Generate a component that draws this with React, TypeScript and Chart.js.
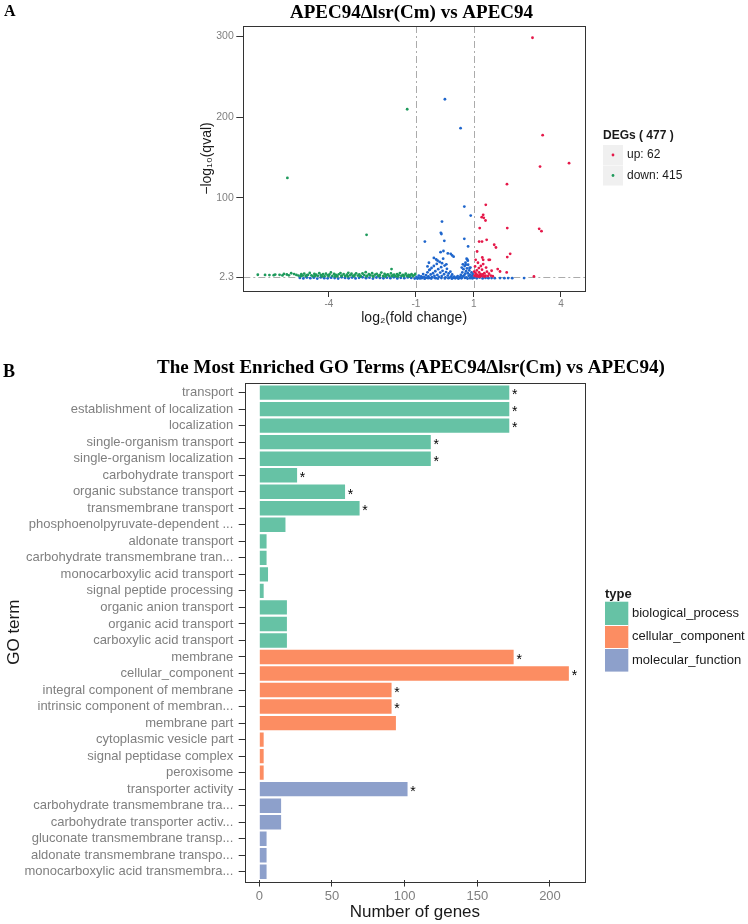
import React, { useEffect, useRef } from "react";
import { Chart, registerables } from "chart.js";

Chart.register(...registerables);

const SANS = '"Liberation Sans", Arial, Helvetica, sans-serif';
const SERIF = '"Liberation Serif", "Times New Roman", serif';

// ---------------- Panel A data (volcano plot) ----------------
const PANEL_A_LABEL = "A";
const VOLCANO_TITLE = "APEC94\u0394lsr(Cm) vs APEC94";
const FC_AXIS_TITLE = "log\u2082(fold change)";
const Q_AXIS_TITLE = "\u2212log\u2081\u2080(qval)";
const FC_TICKS = [-4, -1, 1, 4];
const Q_TICKS = [2.3, 100, 200, 300];
const FC_CUTOFFS = [-1, 1];
const Q_CUTOFF = 2.3;
const DEG_TITLE = "DEGs ( 477 )";
const UP_LABEL = "up: 62";
const DOWN_LABEL = "down: 415";

const UP_POINTS: [number, number][] = [
  [3.02, 297.9], [3.37, 177.5], [3.28, 138.8], [4.28, 143.0], [2.14, 117.0], [1.41, 91.5],
  [1.32, 79.2], [1.27, 76.3], [1.34, 75.5], [1.40, 72.2], [1.20, 62.8], [2.15, 62.8],
  [3.25, 61.9], [3.33, 59.0], [1.18, 46.2], [1.28, 46.2], [1.44, 48.3], [1.70, 42.2],
  [1.76, 38.8], [1.11, 33.9], [2.25, 31.0], [2.15, 27.0], [1.29, 26.5], [1.32, 23.6],
  [1.51, 23.6], [1.55, 23.6], [1.06, 23.6], [1.32, 18.3], [1.17, 13.4], [1.82, 12.2],
  [1.61, 10.1], [1.90, 9.2], [2.13, 8.0], [3.07, 3.0], [1.02, 4.0], [1.05, 7.5],
  [1.08, 3.2], [1.10, 10.5], [1.12, 5.0], [1.15, 3.0], [1.18, 8.0], [1.20, 4.5],
  [1.23, 6.0], [1.25, 3.5], [1.28, 11.5], [1.30, 5.5], [1.33, 3.2], [1.36, 7.0],
  [1.40, 4.0], [1.45, 9.0], [1.48, 3.5], [1.52, 6.5], [1.58, 4.2], [1.65, 3.3],
  [1.04, 15.5], [1.14, 20.0], [1.24, 16.0], [1.42, 14.0], [1.01, 9.0], [1.07, 5.8],
  [1.21, 2.8], [1.38, 2.9],
];

const DOWN_POINTS: [number, number][] = [
  [-5.43, 124.8], [-2.70, 54.5], [-1.30, 209.6], [-1.84, 12.2],
  [-6.45, 5.2], [-6.20, 5.0], [-6.05, 4.8], [-5.90, 4.6], [-5.85, 5.4], [-5.70, 5.1],
  [-5.60, 4.3], [-5.55, 6.2], [-5.45, 5.5], [-5.38, 4.5], [-5.30, 7.0], [-5.20, 6.0],
  [-5.12, 5.0], [-5.05, 4.2], [-4.95, 5.8], [-4.90, 4.1], [-4.85, 6.6], [-4.80, 3.6],
  [-4.72, 5.0], [-4.66, 7.4], [-4.60, 4.4], [-4.55, 3.2], [-4.50, 6.1], [-4.44, 5.2],
  [-4.38, 3.9], [-4.33, 7.0], [-4.27, 4.7], [-4.20, 5.9], [-4.15, 3.4], [-4.10, 6.5],
  [-4.04, 4.3], [-3.98, 5.5], [-3.93, 8.0], [-3.88, 3.7], [-3.82, 6.2], [-3.76, 4.9],
  [-3.71, 3.3], [-3.66, 5.7], [-3.60, 7.2], [-3.55, 4.1], [-3.49, 6.0], [-3.44, 3.5],
  [-3.38, 5.3], [-3.33, 7.6], [-3.27, 4.5], [-3.22, 6.4], [-3.17, 3.8], [-3.11, 5.1],
  [-3.06, 6.9], [-3.00, 4.2], [-2.95, 5.6], [-2.90, 3.4], [-2.84, 6.7], [-2.78, 4.8],
  [-2.73, 8.3], [-2.68, 3.9], [-2.62, 5.9], [-2.57, 4.4], [-2.51, 7.0], [-2.46, 3.6],
  [-2.40, 5.4], [-2.35, 6.3], [-2.30, 4.0], [-2.24, 5.0], [-2.19, 7.8], [-2.13, 3.5],
  [-2.08, 6.1], [-2.03, 4.6], [-1.97, 5.5], [-1.92, 3.8], [-1.86, 6.8], [-1.80, 4.4],
  [-1.75, 5.2], [-1.70, 3.4], [-1.65, 6.0], [-1.60, 4.7], [-1.55, 7.3], [-1.50, 3.9],
  [-1.45, 5.1], [-1.40, 4.2], [-1.35, 6.4], [-1.30, 3.6], [-1.25, 5.0], [-1.20, 4.3],
  [-1.15, 5.8], [-1.10, 3.5], [-1.05, 4.8], [-1.02, 6.2], [-4.97, 3.3], [-4.76, 4.6],
  [-4.47, 3.5], [-4.24, 3.1], [-4.01, 3.6], [-3.79, 3.1], [-3.57, 3.5], [-3.35, 3.0],
  [-3.13, 3.4], [-2.92, 2.9], [-2.70, 3.3], [-2.48, 3.0], [-2.27, 3.4], [-2.05, 2.9],
  [-1.83, 3.2], [-1.62, 2.9], [-1.42, 3.3], [-1.22, 3.0],
];

const NS_POINTS: [number, number][] = [
  [-5.00, 1.2], [-4.88, 0.6], [-4.76, 1.8], [-4.64, 0.9], [-4.52, 1.5], [-4.40, 0.4],
  [-4.28, 1.9], [-4.16, 1.0], [-4.04, 0.7], [-3.92, 1.6], [-3.80, 1.1], [-3.68, 0.5],
  [-3.56, 2.0], [-3.44, 1.3], [-3.32, 0.8], [-3.20, 1.7], [-3.08, 0.6], [-2.96, 1.4],
  [-2.84, 2.1], [-2.72, 0.9], [-2.60, 1.5], [-2.48, 0.5], [-2.36, 1.8], [-2.24, 1.2],
  [-2.12, 0.7], [-2.00, 1.6], [-1.88, 1.0], [-1.76, 2.0], [-1.64, 0.6], [-1.52, 1.4],
  [-1.40, 0.9], [-1.28, 1.9], [-1.16, 1.2], [-1.04, 0.5],
  [-0.98, 2.5], [-0.93, 1.1], [-0.90, 4.0], [-0.86, 0.6], [-0.82, 3.2], [-0.78, 1.8],
  [-0.75, 6.0], [-0.71, 2.4], [-0.68, 0.9], [-0.65, 4.8], [-0.62, 1.5], [-0.60, 8.2],
  [-0.57, 3.0], [-0.54, 11.0], [-0.52, 1.2], [-0.49, 5.5], [-0.46, 13.5], [-0.44, 2.2],
  [-0.41, 7.0], [-0.38, 16.0], [-0.36, 3.8], [-0.33, 9.5], [-0.31, 1.0], [-0.28, 18.5],
  [-0.26, 5.0], [-0.23, 12.0], [-0.21, 2.6], [-0.18, 21.0], [-0.16, 7.8], [-0.13, 14.5],
  [-0.11, 3.5], [-0.08, 10.0], [-0.06, 25.0], [-0.03, 5.8], [-0.01, 16.5], [0.02, 2.0],
  [0.04, 8.5], [0.07, 12.5], [0.10, 4.2], [0.13, 6.8], [0.16, 1.5], [0.19, 9.0],
  [0.22, 3.0], [0.25, 5.5], [0.28, 1.2], [0.32, 2.8], [0.36, 0.8], [0.40, 1.9],
  [0.44, 3.5], [0.48, 1.0], [0.52, 2.5], [0.55, 5.0], [0.58, 1.6], [0.60, 8.0],
  [0.62, 3.2], [0.64, 12.0], [0.66, 4.5], [0.68, 16.0], [0.70, 6.5], [0.71, 20.0],
  [0.73, 9.5], [0.74, 2.0], [0.76, 13.0], [0.77, 24.0], [0.79, 7.0], [0.80, 17.5],
  [0.82, 3.8], [0.84, 10.5], [0.86, 5.2], [0.88, 14.0], [0.90, 2.5], [0.92, 8.0],
  [0.94, 4.0], [0.96, 6.0], [0.98, 1.5],
  [0.00, 221.9], [0.54, 186.2], [0.67, 89.4], [0.89, 78.3], [-0.10, 70.9], [-0.14, 57.0],
  [-0.12, 55.5], [-0.69, 46.2], [-0.02, 47.1], [0.67, 49.6], [0.80, 40.1], [-0.15, 33.0],
  [0.10, 31.5], [-0.05, 34.5], [0.25, 29.0], [0.20, 31.0], [0.30, 27.5], [-0.38, 26.0],
  [-0.25, 22.5], [-0.30, 24.0], [0.75, 25.0], [0.79, 22.5], [0.72, 17.5], [-0.55, 20.0],
  [-0.60, 15.5], [-0.52, 11.5], [0.62, 18.0], [0.58, 14.0], [0.85, 13.5], [-0.10, 19.5],
  [0.05, 18.0],
  [-0.95, 0.4], [-0.80, 0.9], [-0.70, 0.3], [-0.58, 1.0], [-0.47, 0.5], [-0.35, 1.3],
  [-0.24, 0.4], [-0.12, 1.1], [0.00, 0.6], [0.12, 0.9], [0.24, 0.3], [0.34, 1.4],
  [0.46, 0.5], [0.57, 0.8], [0.69, 1.2], [0.78, 0.4], [0.87, 0.9], [0.95, 0.6],
  [1.02, 1.5], [1.10, 0.8], [1.20, 1.8], [1.30, 0.6], [1.40, 1.2], [1.50, 0.9],
  [1.61, 1.1], [1.72, 1.0], [1.90, 1.1], [2.05, 1.0], [2.18, 1.1], [2.32, 1.0], [2.73, 1.1],
];

const UP_COLOR = "#E5194A";
const DOWN_COLOR = "#1E9A5C";
const NS_COLOR = "#1F66CC";

// ---------------- Panel B data (GO enrichment) ----------------
const PANEL_B_LABEL = "B";
const GO_TITLE = "The Most Enriched GO Terms (APEC94\u0394lsr(Cm) vs APEC94)";
const GO_AXIS_TITLE = "GO term";
const COUNT_AXIS_TITLE = "Number of genes";
const GENE_TICKS = [0, 50, 100, 150, 200];
const TYPE_TITLE = "type";
const TYPE_NAMES = ["biological_process", "cellular_component", "molecular_function"];
const TYPE_COLORS = ["#66C2A5", "#FC8D62", "#8DA0CB"];

const GO_TERMS = [
  "transport",
  "establishment of localization",
  "localization",
  "single-organism transport",
  "single-organism localization",
  "carbohydrate transport",
  "organic substance transport",
  "transmembrane transport",
  "phosphoenolpyruvate-dependent ...",
  "aldonate transport",
  "carbohydrate transmembrane tran...",
  "monocarboxylic acid transport",
  "signal peptide processing",
  "organic anion transport",
  "organic acid transport",
  "carboxylic acid transport",
  "membrane",
  "cellular_component",
  "integral component of membrane",
  "intrinsic component of membran...",
  "membrane part",
  "cytoplasmic vesicle part",
  "signal peptidase complex",
  "peroxisome",
  "transporter activity",
  "carbohydrate transmembrane tra...",
  "carbohydrate transporter activ...",
  "gluconate transmembrane transp...",
  "aldonate transmembrane transpo...",
  "monocarboxylic acid transmembra...",
];
const GO_COUNTS = [
  172, 172, 172, 118, 118, 26, 59, 69, 18, 5, 5, 6, 3, 19, 19, 19,
  175, 213, 91, 91, 94, 3, 3, 3,
  102, 15, 15, 5, 5, 5,
];
const GO_TYPES = [
  0, 0, 0, 0, 0, 0, 0, 0, 0, 0, 0, 0, 0, 0, 0, 0,
  1, 1, 1, 1, 1, 1, 1, 1,
  2, 2, 2, 2, 2, 2,
];
const GO_SIG = [
  "*", "*", "*", "*", "*", "*", "*", "*", "", "", "", "", "", "", "", "",
  "*", "*", "*", "*", "", "", "", "",
  "*", "", "", "", "", "",
];

const TICK_GREY = "#7F7F7F";
const FRAME = "#333333";
const TEXT = "#1A1A1A";

function VolcanoChart() {
  const ref = useRef<HTMLCanvasElement>(null);
  useEffect(() => {
    const canvas = ref.current!;
    const toXY = (arr: [number, number][]) => arr.map(([x, y]) => ({ x, y }));

    const refLines = {
      id: "refLines",
      beforeDatasetsDraw(chart: any) {
        const { ctx, chartArea: a, scales } = chart;
        ctx.save();
        ctx.strokeStyle = "#ABABAB";
        ctx.lineWidth = 1;
        ctx.setLineDash([7, 3, 2, 3]);
        FC_CUTOFFS.forEach((v) => {
          const px = Math.round(scales.x.getPixelForValue(v)) + 0.5;
          ctx.beginPath();
          ctx.moveTo(px, a.top);
          ctx.lineTo(px, a.bottom);
          ctx.stroke();
        });
        const py = Math.round(scales.y.getPixelForValue(Q_CUTOFF)) + 0.5;
        ctx.beginPath();
        ctx.moveTo(a.left, py);
        ctx.lineTo(a.right, py);
        ctx.stroke();
        ctx.restore();
      },
    };

    const decor = {
      id: "decorA",
      afterDraw(chart: any) {
        const { ctx, chartArea: a } = chart;
        ctx.save();
        ctx.strokeStyle = FRAME;
        ctx.lineWidth = 1;
        ctx.strokeRect(Math.round(a.left) + 0.5, Math.round(a.top) + 0.5, Math.round(a.right - a.left), Math.round(a.bottom - a.top));

        ctx.fillStyle = "#000";
        ctx.textBaseline = "middle";
        ctx.textAlign = "left";
        ctx.font = `bold 16px ${SERIF}`;
        ctx.fillText(PANEL_A_LABEL, 4, 12);
        ctx.textAlign = "center";
        ctx.font = `bold 19px ${SERIF}`;
        ctx.fillText(VOLCANO_TITLE, 411.5, 13.5);

        // legend
        ctx.textAlign = "left";
        ctx.fillStyle = TEXT;
        ctx.font = `bold 12px ${SANS}`;
        ctx.fillText(DEG_TITLE, 603, 136);
        const keys = [
          { label: UP_LABEL, color: UP_COLOR },
          { label: DOWN_LABEL, color: DOWN_COLOR },
        ];
        keys.forEach((k, i) => {
          const top = 145 + i * 20.5;
          ctx.fillStyle = "#F0F0F0";
          ctx.fillRect(603, top, 20, 20);
          ctx.fillStyle = k.color;
          ctx.beginPath();
          ctx.arc(613, top + 10, 1.4, 0, Math.PI * 2);
          ctx.fill();
          ctx.fillStyle = TEXT;
          ctx.font = `12px ${SANS}`;
          ctx.fillText(k.label, 627, top + 10);
        });
        ctx.restore();
      },
    };

    const chart = new Chart(canvas, {
      type: "scatter",
      data: {
        datasets: [
          { label: "up", data: toXY(UP_POINTS), backgroundColor: UP_COLOR, borderWidth: 0, pointRadius: 1.4, order: 1 },
          { label: "down", data: toXY(DOWN_POINTS), backgroundColor: DOWN_COLOR, borderWidth: 0, pointRadius: 1.4, order: 2 },
          { label: "ns", data: toXY(NS_POINTS), backgroundColor: NS_COLOR, borderWidth: 0, pointRadius: 1.4, order: 3 },
        ],
      },
      options: {
        animation: false,
        responsive: false,
        devicePixelRatio: 1,
        layout: { padding: { left: 196, right: 163, top: 26, bottom: 0 } },
        plugins: { legend: { display: false }, tooltip: { enabled: false }, title: { display: false } },
        scales: {
          x: {
            type: "linear",
            min: -6.95,
            max: 4.83,
            afterBuildTicks: (s: any) => {
              s.ticks = FC_TICKS.map((v) => ({ value: v }));
            },
            afterFit: (s: any) => {
              s.height = 49;
            },
            grid: { display: true, drawOnChartArea: false, drawTicks: true, tickLength: 6, color: FRAME },
            border: { display: false },
            ticks: { color: TICK_GREY, font: { family: SANS, size: 10 }, padding: 1.5, maxRotation: 0, callback: (v: any) => String(v) },
            title: { display: true, text: FC_AXIS_TITLE, color: TEXT, font: { family: SANS, size: 14 }, padding: { top: 0, bottom: 13.6 } },
          },
          y: {
            type: "linear",
            min: -14.9,
            max: 312.4,
            afterBuildTicks: (s: any) => {
              s.ticks = Q_TICKS.map((v) => ({ value: v }));
            },
            afterFit: (s: any) => {
              s.width = 47.3;
            },
            grid: { display: true, drawOnChartArea: false, drawTicks: true, tickLength: 7, color: FRAME },
            border: { display: false },
            ticks: { color: TICK_GREY, font: { family: SANS, size: 10.5 }, padding: 2.5, callback: (v: any) => String(v) },
            title: { display: true, text: Q_AXIS_TITLE, color: TEXT, font: { family: SANS, size: 14 }, padding: { top: 2.6, bottom: 0 } },
          },
        },
      },
      plugins: [refLines, decor],
    } as any);
    return () => chart.destroy();
  }, []);
  return (
    <canvas
      ref={ref}
      width={748}
      height={340}
      style={{ position: "absolute", left: 0, top: 0, width: 748, height: 340 }}
    />
  );
}

function GoChart() {
  const ref = useRef<HTMLCanvasElement>(null);
  useEffect(() => {
    const canvas = ref.current!;

    const decor = {
      id: "decorB",
      afterDatasetsDraw(chart: any) {
        const { ctx } = chart;
        const meta = chart.getDatasetMeta(0);
        ctx.save();
        ctx.fillStyle = "#000";
        ctx.font = `14px ${SANS}`;
        ctx.textAlign = "center";
        ctx.textBaseline = "alphabetic";
        meta.data.forEach((el: any, i: number) => {
          if (GO_SIG[i]) ctx.fillText(GO_SIG[i], el.x + 5.5, el.y + 6.8);
        });
        ctx.restore();
      },
      afterDraw(chart: any) {
        const { ctx, chartArea: a } = chart;
        const ext = ((a.bottom - a.top) / GO_TERMS.length) * 0.1;
        ctx.save();
        ctx.strokeStyle = FRAME;
        ctx.lineWidth = 1;
        const top = Math.round(a.top - ext) + 0.5;
        const bottom = Math.round(a.bottom + ext) + 0.5;
        ctx.strokeRect(Math.round(a.left) + 0.5, top, Math.round(a.right - a.left), bottom - top);

        ctx.fillStyle = "#000";
        ctx.textBaseline = "middle";
        ctx.textAlign = "left";
        ctx.font = `bold 18px ${SERIF}`;
        ctx.fillText(PANEL_B_LABEL, 3, 32.5);
        ctx.textAlign = "center";
        ctx.font = `bold 19px ${SERIF}`;
        ctx.fillText(GO_TITLE, 411, 27.7);

        // legend
        ctx.textAlign = "left";
        ctx.fillStyle = TEXT;
        ctx.font = `bold 13px ${SANS}`;
        ctx.fillText(TYPE_TITLE, 605, 254);
        TYPE_NAMES.forEach((name, i) => {
          const y = 261.7 + i * 23.3;
          ctx.fillStyle = TYPE_COLORS[i];
          ctx.fillRect(605, y, 23.3, 23.3);
          ctx.fillStyle = TEXT;
          ctx.font = `13px ${SANS}`;
          ctx.fillText(name, 632, y + 11.8);
        });
        ctx.strokeStyle = "#FFFFFF";
        ctx.lineWidth = 1;
        for (let i = 1; i < TYPE_NAMES.length; i++) {
          const y = Math.round(261.7 + i * 23.3) + 0.5;
          ctx.beginPath();
          ctx.moveTo(605, y);
          ctx.lineTo(628.3, y);
          ctx.stroke();
        }
        ctx.restore();
      },
    };

    const chart = new Chart(canvas, {
      type: "bar",
      data: {
        labels: GO_TERMS,
        datasets: [
          {
            data: GO_COUNTS,
            backgroundColor: GO_TYPES.map((t) => TYPE_COLORS[t]),
            borderWidth: 0,
            barPercentage: 0.87,
            categoryPercentage: 1,
          },
        ],
      },
      options: {
        indexAxis: "y",
        animation: false,
        responsive: false,
        devicePixelRatio: 1,
        layout: { padding: { left: 0, right: 163, top: 44.35, bottom: 0 } },
        plugins: { legend: { display: false }, tooltip: { enabled: false }, title: { display: false } },
        scales: {
          x: {
            type: "linear",
            min: -10.05,
            max: 224.1,
            afterBuildTicks: (s: any) => {
              s.ticks = GENE_TICKS.map((v) => ({ value: v }));
            },
            afterFit: (s: any) => {
              s.height = 43.95;
            },
            grid: { display: true, drawOnChartArea: false, drawTicks: true, tickLength: 6.5, color: FRAME, offset: false },
            border: { display: false },
            ticks: { color: TICK_GREY, font: { family: SANS, size: 13 }, padding: 2.5, maxRotation: 0, callback: (v: any) => String(v) },
            title: { display: true, text: COUNT_AXIS_TITLE, color: TEXT, font: { family: SANS, size: 17 }, padding: { top: 0, bottom: 1.5 } },
          },
          y: {
            type: "category",
            afterFit: (s: any) => {
              s.width = 244.7;
            },
            grid: { display: true, drawOnChartArea: false, drawTicks: true, tickLength: 6, color: FRAME, offset: false },
            border: { display: false },
            ticks: { color: TICK_GREY, font: { family: SANS, size: 13 }, padding: 5.4, autoSkip: false },
            title: { display: true, text: GO_AXIS_TITLE, color: TEXT, font: { family: SANS, size: 17 }, padding: { top: 3.8, bottom: 0 } },
          },
        },
      },
      plugins: [decor],
    } as any);
    return () => chart.destroy();
  }, []);
  return (
    <canvas
      ref={ref}
      width={748}
      height={584}
      style={{ position: "absolute", left: 0, top: 340, width: 748, height: 584 }}
    />
  );
}

export default function App() {
  return (
    <div style={{ position: "absolute", left: 0, top: 0, width: 748, height: 924, background: "#FFFFFF", overflow: "hidden" }}>
      <VolcanoChart />
      <GoChart />
    </div>
  );
}
